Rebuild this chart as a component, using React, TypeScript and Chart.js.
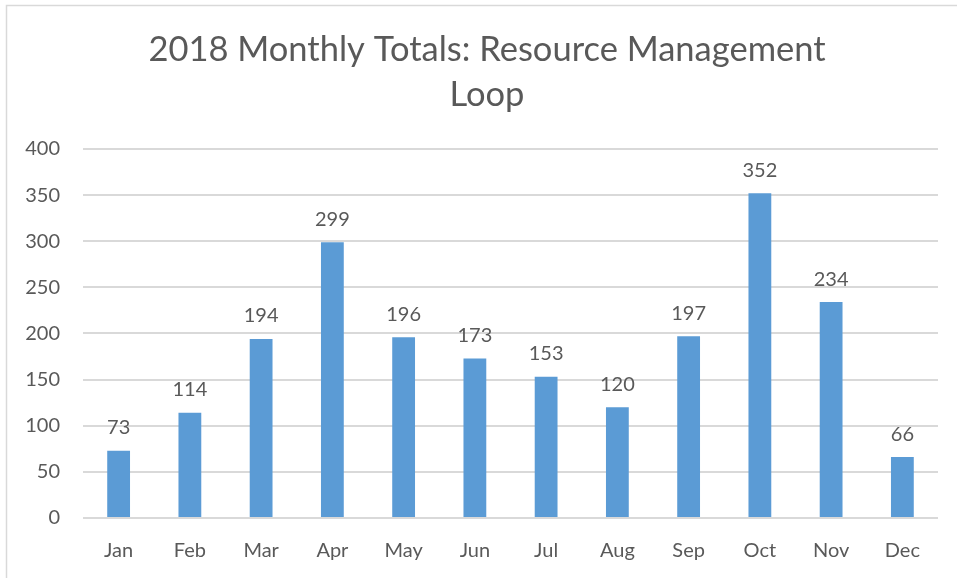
import React, { useEffect, useRef } from "react";
import { Chart, registerables } from "chart.js";

Chart.register(...registerables);

const titleLines = ["2018 Monthly Totals: Resource Management", "Loop"];
const months = ["Jan", "Feb", "Mar", "Apr", "May", "Jun", "Jul", "Aug", "Sep", "Oct", "Nov", "Dec"];
const totals = [73, 114, 194, 299, 196, 173, 153, 120, 197, 352, 234, 66];
const yMin = 0;
const yMax = 400;
const yStep = 50;

const FONT = "Lato, 'Open Sans', sans-serif";
const TEXT = "#595959";

const dataLabelPlugin = {
  id: "dataLabels",
  afterDatasetsDraw(chart: any) {
    const ctx = chart.ctx;
    const meta = chart.getDatasetMeta(0);
    ctx.save();
    ctx.fillStyle = TEXT;
    ctx.font = `20px ${FONT}`;
    ctx.textAlign = "center";
    ctx.textBaseline = "bottom";
    meta.data.forEach((bar: any, i: number) => {
      ctx.fillText(String(totals[i]), bar.x, bar.y - 13);
    });
    ctx.restore();
  },
};

const titleShiftPlugin = {
  id: "titleShift",
  afterLayout(chart: any) {
    if (chart.titleBlock) {
      chart.titleBlock.left = 36;
    }
  },
};

const framePlugin = {
  id: "frame",
  beforeDraw(chart: any) {
    const ctx = chart.ctx;
    ctx.save();
    ctx.fillStyle = "#ffffff";
    ctx.fillRect(0, 0, chart.width, chart.height);
    ctx.strokeStyle = "#D9D9D9";
    ctx.lineWidth = 1.5;
    ctx.strokeRect(6.5, 5.5, chart.width + 10, chart.height + 10);
    ctx.restore();
  },
};

export default function App() {
  const ref = useRef<HTMLCanvasElement>(null);
  useEffect(() => {
    document.body.style.margin = "0";
    const chart = new Chart(ref.current!, {
      type: "bar",
      data: {
        labels: months,
        datasets: [
          {
            data: totals,
            backgroundColor: "#5B9BD5",
            barPercentage: 0.32,
            categoryPercentage: 1,
          },
        ],
      },
      options: {
        animation: false,
        responsive: false,
        layout: { padding: { left: 0, right: 19, top: 0, bottom: 0 } },
        plugins: {
          legend: { display: false },
          tooltip: { enabled: false },
          title: {
            display: true,
            text: titleLines,
            color: TEXT,
            font: { family: FONT, size: 34.5, weight: "normal", lineHeight: 1.304 },
            padding: { top: 27.5, bottom: 31.5 },
          },
        },
        scales: {
          x: {
            grid: { display: false, drawTicks: false },
            border: { display: false },
            ticks: { color: TEXT, font: { family: FONT, size: 20 }, padding: 21 },
            afterFit(scale: any) {
              scale.height = 60;
            },
          },
          y: {
            min: yMin,
            max: yMax,
            ticks: { stepSize: yStep, color: TEXT, font: { family: FONT, size: 20 }, padding: 23 },
            grid: { color: "#D9D9D9", lineWidth: 2, drawTicks: false },
            border: { display: false },
            afterFit(scale: any) {
              scale.width = 83;
            },
          },
        },
      },
      plugins: [framePlugin, titleShiftPlugin, dataLabelPlugin],
    });
    return () => chart.destroy();
  }, []);
  return <canvas ref={ref} width={957} height={578} style={{ display: "block" }} />;
}
